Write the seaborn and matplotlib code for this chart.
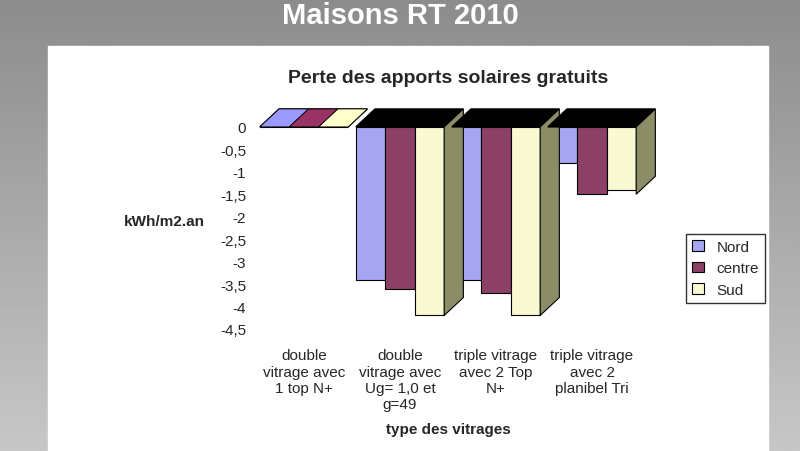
import matplotlib
matplotlib.use("Agg")
import matplotlib.pyplot as plt
from matplotlib.patches import Polygon, Rectangle
import numpy as np
import pandas as pd
import seaborn as sns

categories = ["double\nvitrage avec\n1 top N+", "double\nvitrage avec\nUg= 1,0 et\ng=49",
              "triple vitrage\navec 2 Top\nN+", "triple vitrage\navec 2\nplanibel Tri"]
series = ["Nord", "centre", "Sud"]
nord = [0.0, -3.4, -3.4, -0.8]
centre = [0.0, -3.6, -3.7, -1.5]
sud = [0.0, -4.2, -4.2, -1.4]
colors = ["#9999FF", "#993366", "#FFFFCC"]

df = pd.DataFrame({
    "cat": categories * 3,
    "serie": [s for s in series for _ in categories],
    "val": nord + centre + sud,
})

sns.set_style("white")
plt.rcParams["font.family"] = ["Liberation Sans", "DejaVu Sans"]
fig = plt.figure(figsize=(8, 4.52), dpi=100)

# slide background
bg = fig.add_axes([0, 0, 1, 1], zorder=-10)
grad = np.linspace(0.55, 0.78, 256).reshape(-1, 1)
bg.imshow(grad, cmap="gray", vmin=0, vmax=1, aspect="auto", extent=[0, 1, 0, 1])
bg.add_patch(Rectangle((0.06, 0), 0.90, 0.895, color="white"))
bg.set_xlim(0, 1); bg.set_ylim(0, 1); bg.axis("off")
fig.text(0.5, 0.965, "Maisons RT 2010", ha="center", va="center", color="white",
         fontsize=21, fontweight="bold")

w_bar = 0.92
ax = fig.add_axes([0.32, 0.27, 0.48, 0.447])
sns.barplot(data=df, x="cat", y="val", hue="serie", palette=colors, width=w_bar,
            edgecolor="black", linewidth=0.8, ax=ax, legend=True)
ax.set_ylim(-4.5, 0)
ax.set_yticks(np.arange(-4.5, 0.01, 0.5))
ax.set_yticklabels([f"{v:g}".replace(".", ",") for v in np.arange(-4.5, 0.01, 0.5)], fontsize=11)
ax.tick_params(axis="x", labelsize=11, length=0, pad=14)
for s in ax.spines.values():
    s.set_visible(False)

# pseudo 3D depth for each group
dx, dy = 0.2, 0.4
for i in range(len(categories)):
    x0, x1 = i - w_bar / 2, i + w_bar / 2
    lo = min(nord[i], centre[i], sud[i])
    ax.add_patch(Polygon([(x0, 0), (x1, 0), (x1 + dx, dy), (x0 + dx, dy)],
                         closed=True, facecolor="black", edgecolor="black", clip_on=False))
    if lo < 0:
        ax.add_patch(Polygon([(x1, 0), (x1 + dx, dy), (x1 + dx, lo + dy), (x1, lo)],
                             closed=True, facecolor="#8c8c66", edgecolor="black",
                             linewidth=0.8, clip_on=False))
    else:
        w = (x1 - x0) / 3
        for c, bx in zip(colors, np.linspace(x0, x1, 4)[:-1]):
            ax.add_patch(Polygon([(bx, 0), (bx + w, 0), (bx + w + dx, dy), (bx + dx, dy)],
                                 closed=True, facecolor=c, edgecolor="black",
                                 linewidth=0.6, clip_on=False))

ax.set_title("Perte des apports solaires gratuits", fontsize=14, fontweight="bold", pad=32)
ax.set_ylabel("kWh/m2.an", fontsize=11, fontweight="bold", rotation=0, labelpad=40)
ax.set_xlabel("type des vitrages", fontsize=11, fontweight="bold", labelpad=8)
leg = ax.legend(loc="center left", bbox_to_anchor=(1.1, 0.3), frameon=True, fontsize=11,
                fancybox=False, edgecolor="black", handlelength=0.8)
leg.set_title(None)

fig.savefig("out.png", dpi=100)
